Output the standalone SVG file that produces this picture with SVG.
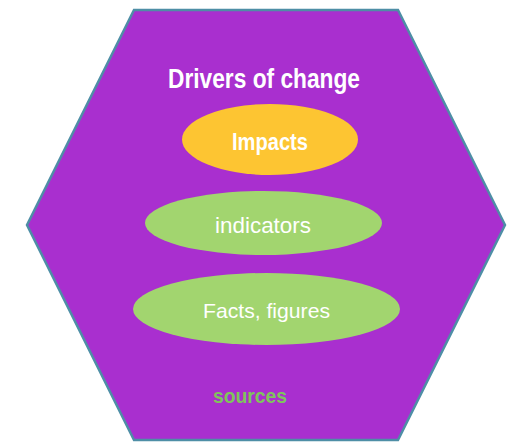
<svg xmlns="http://www.w3.org/2000/svg" width="528" height="446" viewBox="0 0 528 446">
<style>
.lbl{font-family:"Liberation Sans",Arial,sans-serif;fill:#ffffff;text-anchor:middle}
.b{font-weight:bold}
</style>
<rect width="528" height="446" fill="#ffffff"/>
<g id="hexagon">
<polygon points="134,10 398,10 505,225 398,440 134,440 27,225" fill="#a92fcf" stroke="#4e8ea6" stroke-width="2.5"/>
<text class="lbl b" x="264" y="88" font-size="27" textLength="192" lengthAdjust="spacingAndGlyphs">Drivers of change</text>
</g>
<g id="impacts">
<ellipse cx="270" cy="139.5" rx="88" ry="35.5" fill="#fdc532"/>
<text class="lbl b" x="270" y="150" font-size="23" textLength="76" lengthAdjust="spacingAndGlyphs">Impacts</text>
</g>
<g id="indicators">
<ellipse cx="263.5" cy="223" rx="118.5" ry="32" fill="#a2d56f"/>
<text class="lbl" x="263" y="233" font-size="22" textLength="96" lengthAdjust="spacingAndGlyphs">indicators</text>
</g>
<g id="facts">
<ellipse cx="266.5" cy="309" rx="133.5" ry="36" fill="#a2d56f"/>
<text class="lbl" x="266.5" y="318" font-size="21" textLength="127" lengthAdjust="spacingAndGlyphs">Facts, figures</text>
</g>
<g id="sources">
<text class="lbl b" x="250" y="403" font-size="20" style="fill:#80c45c" textLength="74" lengthAdjust="spacingAndGlyphs">sources</text>
</g>
<g id="connectors"></g>
</svg>
